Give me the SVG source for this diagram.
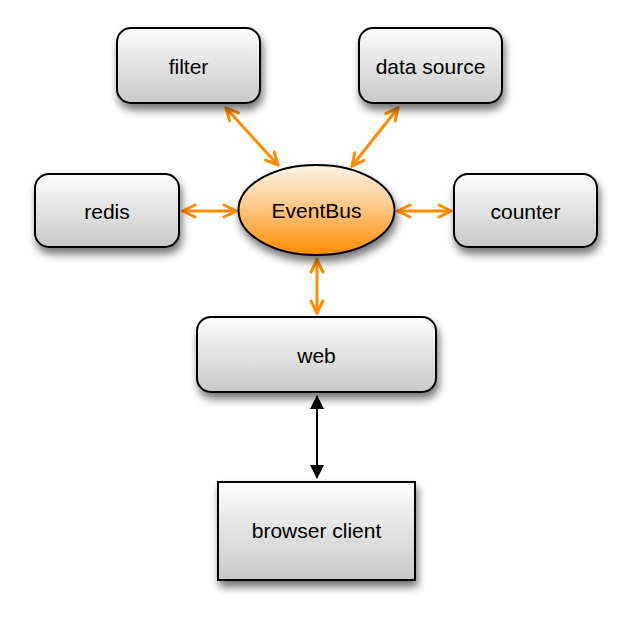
<svg xmlns="http://www.w3.org/2000/svg" width="631" height="621" viewBox="0 0 631 621">
<defs>
<linearGradient id="gBox" x1="0" y1="0" x2="0" y2="1"><stop offset="0" stop-color="#fdfdfd"/><stop offset="1" stop-color="#c8c8c8"/></linearGradient>
<linearGradient id="gBus" x1="0" y1="0" x2="0" y2="1"><stop offset="0" stop-color="#fff3e6"/><stop offset="0.45" stop-color="#ffc98a"/><stop offset="1" stop-color="#ff8c00"/></linearGradient>
<filter id="sh" x="-20%" y="-20%" width="140%" height="150%"><feDropShadow dx="2" dy="6" stdDeviation="4" flood-color="#000" flood-opacity="0.55"/></filter>
<marker id="oa" viewBox="0 0 16 16" refX="14" refY="8" markerWidth="16" markerHeight="16" markerUnits="userSpaceOnUse" orient="auto-start-reverse"><path d="M2,2 L14,8 L2,14" fill="none" stroke="#ff8c00" stroke-width="3" stroke-linecap="round" stroke-linejoin="miter"/></marker>
<marker id="ba" viewBox="0 0 14 16" refX="13" refY="8" markerWidth="14" markerHeight="16" markerUnits="userSpaceOnUse" orient="auto-start-reverse"><path d="M0,1 L14,8 L0,15 Z" fill="#000"/></marker>
</defs>
<style>
.box{fill:url(#gBox);stroke:#000;stroke-width:2;filter:url(#sh)}
.bus{fill:url(#gBus);stroke:#000;stroke-width:2;filter:url(#sh)}
.t{font-family:"Liberation Sans",Arial,sans-serif;font-size:21px;fill:#000;text-anchor:middle;dominant-baseline:central}
.oc{stroke:#ff8c00;stroke-width:3;fill:none;marker-start:url(#oa);marker-end:url(#oa)}
.bc{stroke:#000;stroke-width:2;fill:none;marker-start:url(#ba);marker-end:url(#ba)}
</style>
<g id="connectors">
<line class="oc" x1="226" y1="108" x2="278" y2="165"/>
<line class="oc" x1="398" y1="108" x2="352" y2="166"/>
<line class="oc" x1="183" y1="211" x2="236" y2="211"/>
<line class="oc" x1="398" y1="211" x2="451" y2="211"/>
<line class="oc" x1="317" y1="260" x2="317" y2="313"/>
<line class="bc" x1="317" y1="396" x2="317" y2="478"/>
</g>
<g id="filter"><rect class="box" x="117" y="28" width="143" height="75" rx="14"/><text class="t" x="188.5" y="66">filter</text></g>
<g id="datasource"><rect class="box" x="359" y="28" width="143" height="75" rx="14"/><text class="t" x="430.5" y="66">data source</text></g>
<g id="redis"><rect class="box" x="35" y="174" width="144" height="73" rx="14"/><text class="t" x="107" y="211">redis</text></g>
<g id="counter"><rect class="box" x="454" y="174" width="143" height="73" rx="14"/><text class="t" x="525.5" y="211">counter</text></g>
<g id="eventbus"><ellipse class="bus" cx="316.5" cy="210" rx="78" ry="45"/><text class="t" x="316.5" y="210">EventBus</text></g>
<g id="web"><rect class="box" x="197" y="317" width="239" height="75" rx="14"/><text class="t" x="316.5" y="355">web</text></g>
<g id="browser"><rect class="box" x="218" y="482" width="197" height="98"/><text class="t" x="316.5" y="530">browser client</text></g>
</svg>
